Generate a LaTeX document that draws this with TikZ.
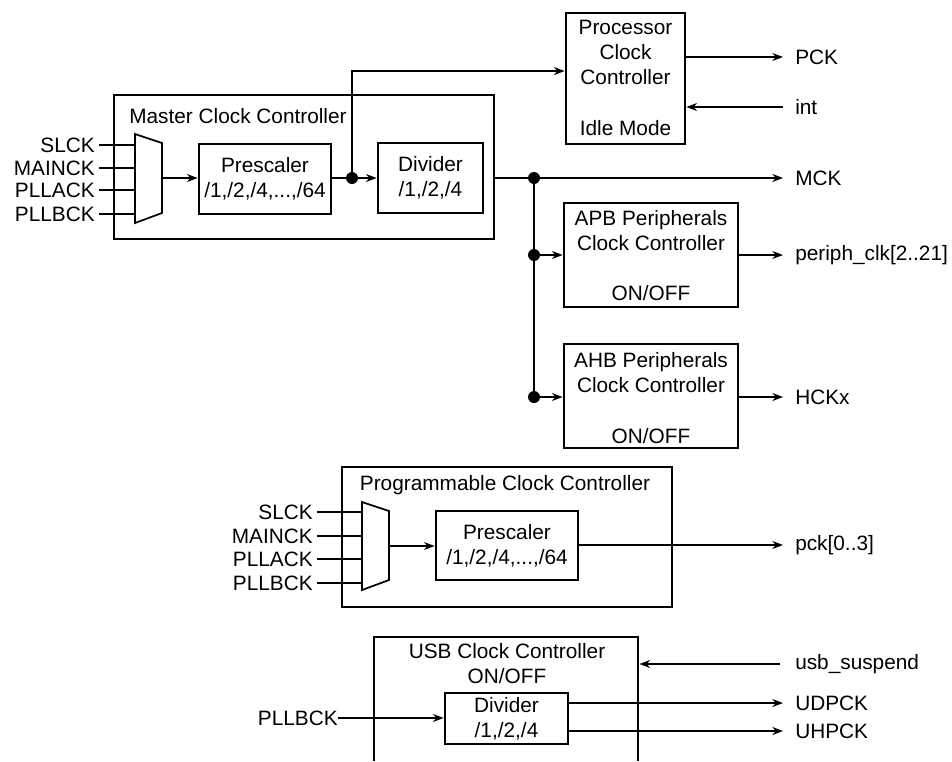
\documentclass[tikz,border=0pt]{standalone}
\usepackage{fontspec}
\setmainfont{Liberation Sans}
\usetikzlibrary{arrows.meta}
\tikzset{
    every node/.style={font=\fontsize{15.6}{18.8}\selectfont},
    blk/.style={draw, line width=2.1pt, inner sep=0pt, align=center},
    wire/.style={line width=1pt},
    sig/.style={line width=1pt, -{Stealth[length=8pt,width=6pt]}},
    jdot/.style={circle, fill, inner sep=0pt, minimum size=9pt},
    inl/.style={anchor=east, inner xsep=3pt},
    outl/.style={anchor=west, inner xsep=9pt}
}

\begin{document}
\begin{tikzpicture}[x=0.75pt, y=-0.75pt]
                \useasboundingbox (0,0) rectangle (952,761);

                % Master clock controller
                \node[blk, minimum width=285pt, minimum height=108pt] (mcc) at (304,167) {};
                \node (mcct) at (238,116) {Master Clock Controller};
                \draw[line width=1.3pt] (135,134) -- (162,143) -- (162,213) -- (135,223) -- cycle;
                \coordinate (mmuxin) at (135,178);
                \coordinate (mmuxout) at (162,178);
                \foreach \name/\y/\txt in {ms/145/SLCK, mm/168/MAINCK, ma/190/PLLACK, mb/214/PLLBCK} {
                    \node[inl] (\name) at (99,\y) {\txt};
                    \draw[wire] (\name.east) -- (\name.east -| mmuxin);
                }
                \node[blk, minimum width=99pt, minimum height=52.5pt] (mpre) at (265,179) {Prescaler\\/1,/2,/4,...,/64};
                \node[blk, minimum width=78.75pt, minimum height=52.5pt] (mdiv) at (430.5,178) {Divider\\/1,/2,/4};
                \draw[sig] (mmuxout) -- (mmuxout -| mpre.west);

                % Junctions
                \node[jdot] (d1) at (352,178) {};
                \node[jdot] (d2) at (534,178) {};
                \node[jdot] (d3) at (534,255) {};
                \node[jdot] (d4) at (534,397) {};

                % Processor clock controller
                \node[blk, minimum width=89.25pt, minimum height=98.25pt] (pcc) at (625.5,78.5) {};
                \node[align=center] (pcct) at (625.5,52.5) {Processor\\Clock\\Controller};
                \node (pcci) at (625.5,128) {Idle Mode};

                % Peripherals clock controllers
                \node[blk, minimum width=130.5pt, minimum height=78pt] (apb) at (651,255) {};
                \node[align=center] (apbt) at (651,230.5) {APB Peripherals\\Clock Controller};
                \node (apbo) at (651,293) {ON/OFF};
                \node[blk, minimum width=130.5pt, minimum height=78pt] (ahb) at (651,396) {};
                \node[align=center] (ahbt) at (651,372.5) {AHB Peripherals\\Clock Controller};
                \node (ahbo) at (651,436) {ON/OFF};

                % Output labels
                \node[outl] (pck) at (783,57) {PCK};
                \node[outl] (int) at (783,107) {int};
                \node[outl] (mck) at (783,178) {MCK};
                \node[outl] (pclk) at (783,255) {periph\_clk[2..21]};
                \node[outl] (hck) at (783,397) {HCKx};

                % Master clock connections
                \draw[wire] (mpre.east |- d1) -- (d1);
                \draw[sig] (d1) -- (mdiv.west |- d1);
                \draw[sig] (d1.center) |- ([yshift=5.6pt]pcc.west);
                \draw[sig] (pcc.east |- pck) -- (pck.west);
                \draw[sig] (int.west) -- (pcc.east |- int);
                \draw[sig] (mcc.east |- d2) -- (mck.west);
                \draw[wire] (d2.center) -- (d4.center);
                \draw[sig] (d3) -- (apb.west |- d3);
                \draw[sig] (d4) -- (ahb.west |- d4);
                \draw[sig] (apb.east |- pclk) -- (pclk.west);
                \draw[sig] (ahb.east |- hck) -- (hck.west);

                % Programmable clock controller
                \node[blk, minimum width=247.5pt, minimum height=105pt] (pgc) at (507,537) {};
                \node (pgct) at (505,485) {Programmable Clock Controller};
                \draw[line width=1.3pt] (362,502) -- (389,511) -- (389,580) -- (362,590) -- cycle;
                \coordinate (pmuxin) at (362,546);
                \coordinate (pmuxout) at (389,546);
                \foreach \name/\y/\txt in {ps/512/SLCK, pm/536/MAINCK, pa/559/PLLACK, pb/583/PLLBCK} {
                    \node[inl] (\name) at (317,\y) {\txt};
                    \draw[wire] (\name.east) -- (\name.east -| pmuxin);
                }
                \node[blk, minimum width=106.5pt, minimum height=51.75pt] (ppre) at (507,545.5) {Prescaler\\/1,/2,/4,...,/64};
                \node[outl] (pckn) at (783,545) {pck[0..3]};
                \draw[sig] (pmuxout) -- (pmuxout -| ppre.west);
                \draw[sig] (ppre.east |- pckn) -- (pckn.west);

                % USB clock controller (cut at the bottom)
                \draw[line width=2.1pt] (374,761) |- (638,637) -- (638,761);
                \node[align=center] (usbt) at (507,663.5) {USB Clock Controller\\ON/OFF};
                \node[blk, minimum width=92.25pt, minimum height=38.25pt] (udiv) at (506.5,718.5) {Divider\\/1,/2,/4};
                \coordinate (usbr) at (639.5,664);
                \node[anchor=east, inner xsep=0pt] (upll) at (338,718) {PLLBCK};
                \node[outl] (susp) at (783,664) {usb\_suspend};
                \node[outl] (udp) at (783,703) {UDPCK};
                \node[outl] (uhp) at (783,731) {UHPCK};
                \draw[sig] (upll.east) -- (udiv.west |- upll);
                \draw[sig] ([xshift=-2pt]susp.west) -- (usbr);
                \draw[sig] (udiv.east |- udp) -- (udp.west);
                \draw[sig] (udiv.east |- uhp) -- (uhp.west);
\end{tikzpicture}
\end{document}
